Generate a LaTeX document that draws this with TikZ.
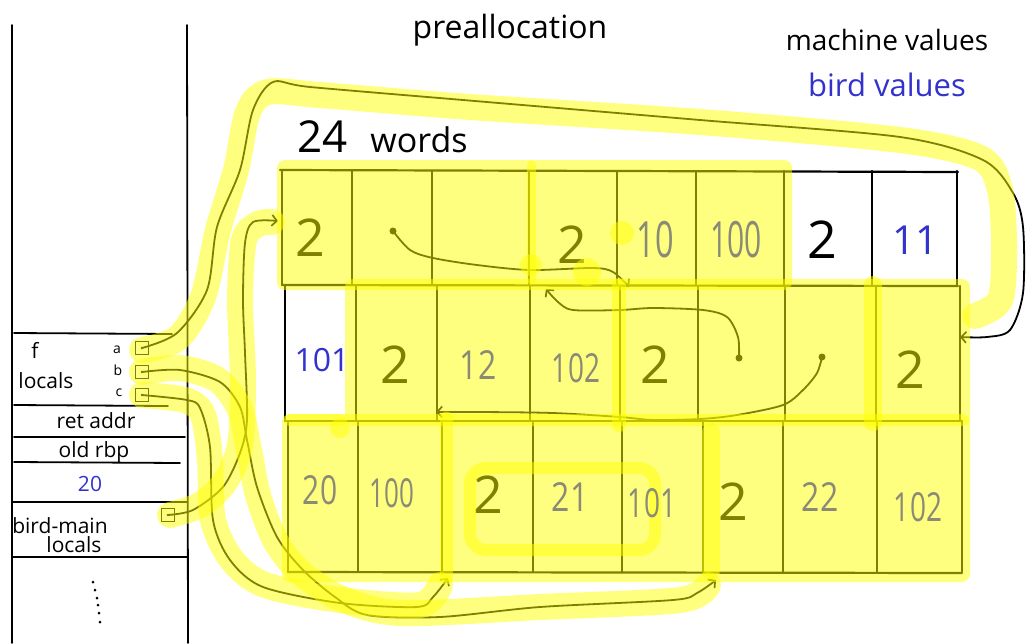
\documentclass[tikz,border=0pt]{standalone}
\usepackage{graphicx}
\usepackage{fontspec}
\setmainfont{Open Sans}
\usetikzlibrary{arrows.meta}
\definecolor{bv}{RGB}{50,50,205}
\definecolor{gv}{RGB}{138,138,118}
\definecolor{hy}{RGB}{255,255,0}
\newcommand\nx[2]{\scalebox{#1}[1]{#2}}
\begin{document}
\begin{tikzpicture}[x=1pt,y=-1pt,
  ln/.style={line width=1.8pt, line cap=round, line join=round},
  gl/.style={line width=2.2pt, line cap=round},
  con/.style={line width=1.8pt, line cap=round, line join=round, -{Straight Barb[length=5pt,width=11pt,line width=1.7pt]}},
  hl/.style={draw=hy, opacity=0.5, line width=26pt, line cap=round, line join=round},
  hf/.style={fill=hy, opacity=0.5, rounded corners=8pt},
  st/.style={inner sep=0pt, font=\fontsize{21}{21}\selectfont},
  sts/.style={inner sep=0pt, font=\fontsize{14}{14}\selectfont},
  ttl/.style={inner sep=0pt, font=\fontsize{28}{28}\selectfont},
  two/.style={inner sep=0pt, font=\fontsize{52}{52}\selectfont},
  gnum/.style={inner sep=0pt, text=gv, font=\fontsize{40}{40}\selectfont},
  gbig/.style={inner sep=0pt, text=gv, font=\fontsize{50}{50}\selectfont},
  bnum/.style={inner sep=0pt, text=bv},
  sbox/.style={draw, line width=1.5pt, minimum size=13pt, inner sep=0pt},
  ptr/.style={circle, fill, inner sep=0pt, minimum size=7pt}
]
\useasboundingbox (0,0) rectangle (1036,643);

% ---------- stack ----------
\draw[ln] (12,25) -- (12,643);
\draw[ln] (187,25) -- (188,643);
\draw[ln] (14,333) -- (172,334);
\draw[ln] (14,405) -- (168,406);
\draw[ln] (14,437) -- (185,437);
\draw[ln] (14,462) -- (180,463);
\draw[ln] (12,502) -- (187,502);
\draw[ln] (12,557) -- (187,557);

\node[st] (tf) at (35,350) {f};
\node[st] (tloc) at (46,381) {locals};
\node[sts] (la) at (117,350) {a};
\node[sts] (lb) at (118,370) {b};
\node[sts] (lc) at (119,393) {c};
\node[st] (tret) at (96,421) {ret addr};
\node[st] (told) at (94,452) {old rbp};
\node[st, text=bv] (t20) at (90,484) {20};
\node[st] (tbm) at (60,526) {bird-main};
\node[st] (tloc2) at (74,545) {locals};
\foreach \x/\y in {93/582,95/590,97/598,98/605,99/613,100/622} \fill (\x,\y) circle (1.5pt);

\node[sbox] (ba) at (142,348) {};
\node[sbox] (bb) at (142,372) {};
\node[sbox] (bc) at (142,395) {};
\node[sbox] (bm) at (168,515) {};
\foreach \b in {ba,bb,bc,bm} \fill (\b.center) circle (1.3pt);

% ---------- titles ----------
\node[ttl, font=\fontsize{32}{32}\selectfont] (pre) at (510,30) {preallocation};
\node[ttl] (mv) at (887,40) {machine values};
\node[ttl, text=bv, font=\fontsize{31}{31}\selectfont] (bdv) at (887,85) {bird values};
\node[inner sep=0pt, anchor=base west] (w24) at (297,152) {\fontsize{44}{44}\selectfont 24\ \ \fontsize{34}{34}\selectfont words};

% ---------- grid ----------
\draw[gl] (280,170) -- (958,172);
\foreach \x in {282,352,432,529,617,696,784,872,957} \draw[gl] (\x,171) -- (\x,285);
\draw[gl] (282,285) -- (958,286);
\foreach \x in {285,356,437,530,620,698,785,876,960} \draw[gl] (\x,286) -- (\x,421);
\draw[gl] (285,421) -- (962,421);
\foreach \x in {288,358,442,533,622,703,783,877,962} \draw[gl] (\x,421) -- (\x,572);
\draw[gl] (288,572) -- (962,573);

% cell contents (machine values)
\node[two] (r1c1) at (310,238) {2};
\node[two] (r1c4) at (572,245) {2};
\node[two] (r1c7) at (822,240) {2};
\node[two] (r2c2) at (395,365) {2};
\node[two] (r2c5) at (655,365) {2};
\node[two] (r2c8) at (910,370) {2};
\node[two] (r3c3) at (488,495) {2};
\node[two] (r3c6) at (733,502) {2};
\node[bnum, font=\fontsize{40}{40}\selectfont] (r1c8) at (915,240) {11};
\node[bnum, font=\fontsize{32}{32}\selectfont] (r2c1) at (322,360) {101};

% pointer dots
\node[ptr] (d1) at (393,231) {};
\node[ptr] (d2) at (739,358) {};
\node[ptr] (d3) at (822,357) {};

% targets
\coordinate (tA) at (960,337);
\coordinate (tM) at (278,221);
\coordinate (tB) at (716,580);
\coordinate (tC) at (448,578);
\coordinate (t1) at (629,287);
\coordinate (t2) at (546,289);
\coordinate (t3) at (436,412);

% ---------- connectors ----------
\draw[con] plot[smooth, tension=0.5] coordinates {(d1.center) (410,250) (433,258) (477,265) (530,270) (593,268) (613,272) (t1)};
\draw[con] plot[smooth, tension=0.5] coordinates {(d2.center) (738,337) (727,317) (703,310) (653,308) (620,310) (573,310) (558,302) (t2)};
\draw[con] plot[smooth, tension=0.5] coordinates {(d3.center) (817,373) (803,390) (783,405) (737,415) (700,419) (653,420) (620,417) (553,413) (480,412) (t3)};
\draw[con] plot[smooth, tension=0.5] coordinates {(ba.center) (177,333) (207,290) (217,227) (240,170) (253,110) (273,82) (310,87) (463,100) (700,120) (900,137) (983,160) (1013,193) (1023,227) (1023,293) (1010,330) (987,337) (tA)};
\draw[con] plot[smooth, tension=0.5] coordinates {(bm.center) (193,510) (223,487) (240,453) (247,420) (245,353) (243,300) (245,243) (253,222) (tM)};
\draw[con] plot[smooth, tension=0.5] coordinates {(bb.center) (180,370) (220,382) (240,407) (247,440) (257,487) (277,537) (303,570) (335,597) (367,615) (440,617) (540,607) (673,600) (697,593) (tB)};
\draw[con] plot[smooth, tension=0.5] coordinates {(bc.center) (187,400) (200,408) (210,447) (213,520) (230,560) (263,587) (340,603) (417,607) (433,597) (tC)};

% ---------- highlighter ----------
\fill[hf] (277,160) rectangle (792,290);
\fill[hf] (345,279) rectangle (970,426);
\fill[hf] (282,414) rectangle (970,582);
\draw[hl, line width=12pt] (290,420) -- (340,420);
\draw[hl, line width=9pt] (531,165) -- (531,280);
\draw[hl, line width=14pt] (619,285) -- (619,425);
\draw[hl, line width=18pt] (873,285) -- (873,422);
\draw[hl, line width=13pt] (446,418) -- (446,578);
\draw[hl, line width=18pt] (711,432) -- (711,570);
\draw[hl, line width=12pt, rounded corners=16pt] (470,468) rectangle (655,550);
\fill[hy, opacity=0.5] (531,265) circle (11pt);
\fill[hy, opacity=0.5] (587,272) circle (14pt);
\fill[hy, opacity=0.5] (622,233) circle (12pt);
\fill[hy, opacity=0.5] (340,428) circle (10pt);
\draw[hl] plot[smooth, tension=0.5] coordinates {(142,350) (178,338) (203,297) (218,230) (236,170) (248,112) (268,92) (320,95) (470,107) (700,122) (900,140) (980,158) (1000,190) (1004,250) (1000,300) (975,316)};
\draw[hl] plot[smooth, tension=0.5] coordinates {(170,515) (200,505) (225,482) (240,445) (243,380) (240,300) (244,240) (258,224) (272,222)};
\draw[hl] plot[smooth, tension=0.5] coordinates {(142,372) (180,368) (218,380) (240,410) (249,450) (258,495) (275,540) (300,572) (340,598) (400,613) (540,607) (680,600) (708,585)};
\draw[hl] plot[smooth, tension=0.5] coordinates {(142,395) (185,400) (203,415) (210,460) (213,520) (232,560) (265,585) (340,600) (420,605) (440,585)};

% ---------- bird values under highlight (gray) ----------
\node[gbig] (r1c5) at (655,240) {\nx{0.65}{10}};
\node[gbig] (r1c6) at (736,240) {\nx{0.6}{100}};
\node[gnum] (r2c3) at (478,365) {\nx{0.8}{12}};
\node[gnum] (r2c4) at (576,368) {\nx{0.7}{102}};
\node[gnum] (r3c1) at (320,490) {\nx{0.75}{20}};
\node[gnum] (r3c2) at (392,493) {\nx{0.65}{100}};
\node[gnum] (r3c4) at (570,497) {\nx{0.8}{21}};
\node[gnum] (r3c5) at (652,503) {\nx{0.7}{101}};
\node[gnum] (r3c7) at (820,497) {\nx{0.8}{22}};
\node[gnum] (r3c8) at (918,507) {\nx{0.7}{102}};
\end{tikzpicture}
\end{document}
